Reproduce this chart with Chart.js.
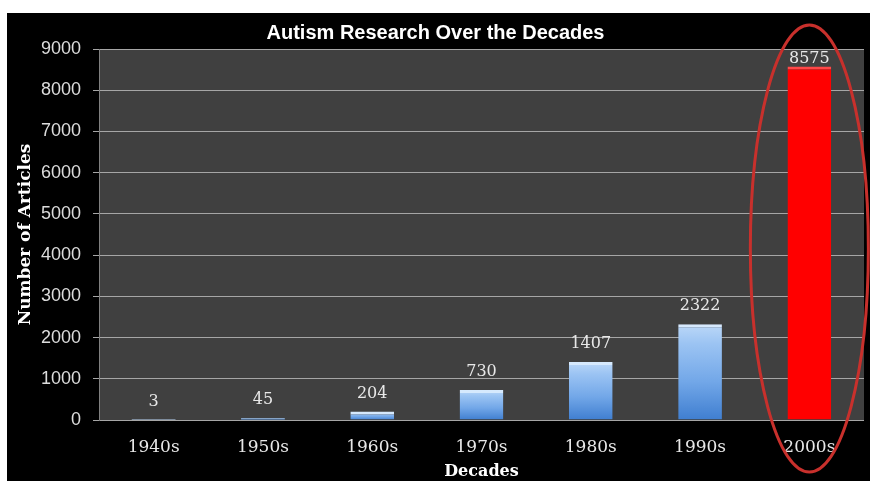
<!DOCTYPE html>
<html>
<head>
<meta charset="utf-8">
<script src="https://cdn.jsdelivr.net/npm/chart.js@4.4.0/dist/chart.umd.min.js"></script>
<style>
    html, body { margin: 0; padding: 0; background: #ffffff; }
    #wrap { position: absolute; left: 7px; top: 13px; width: 863px; height: 468px; background: #000000; }
</style>
</head>
<body>
<div id="wrap"><canvas id="chart" width="863" height="468"></canvas></div>
<script>
// Chart data
const decades = ['1940s', '1950s', '1960s', '1970s', '1980s', '1990s', '2000s'];
const articleCounts = [3, 45, 204, 730, 1407, 2322, 8575];
const yTicks = [0, 1000, 2000, 3000, 4000, 5000, 6000, 7000, 8000, 9000];
const highlightIndex = 6;

// Plot area background
const plotBackground = {
    id: 'plotBackground',
    beforeDraw(chart) {
        const { ctx, chartArea } = chart;
        ctx.save();
        ctx.fillStyle = '#404040';
        ctx.fillRect(chartArea.left, chartArea.top, chartArea.right - chartArea.left, chartArea.bottom - chartArea.top);
        ctx.restore();
    }
};

// Value labels above the bars
const valueLabels = {
    id: 'valueLabels',
    afterDatasetsDraw(chart) {
        const { ctx, chartArea } = chart;
        const meta = chart.getDatasetMeta(0);
        ctx.save();
        ctx.font = '16px "DejaVu Serif"';
        ctx.fillStyle = '#e8e8e8';
        ctx.textAlign = 'center';
        ctx.textBaseline = 'bottom';
        meta.data.forEach((bar, i) => {
            let y = bar.y - 10;
            if (y - 16 < chartArea.top + 2) y = chartArea.top + 18;
            ctx.fillText(String(articleCounts[i]), bar.x, y);
        });
        ctx.restore();
    }
};

// Red ellipse around the highlighted decade
const highlightRing = {
    id: 'highlightRing',
    afterDraw(chart) {
        const { ctx, chartArea, scales } = chart;
        const cx = scales.x.getPixelForValue(highlightIndex);
        const step = (chartArea.right - chartArea.left) / decades.length;
        const top = chartArea.top - 24;
        const bottom = chart.height - 9;
        ctx.save();
        ctx.strokeStyle = '#c8302c';
        ctx.lineWidth = 3;
        ctx.beginPath();
        ctx.ellipse(cx, (top + bottom) / 2, step * 0.54, (bottom - top) / 2, 0, 0, Math.PI * 2);
        ctx.stroke();
        ctx.restore();
    }
};

function barFill(context) {
    const chart = context.chart;
    const { ctx, chartArea, scales } = chart;
    const i = context.dataIndex;
    if (i === highlightIndex) return '#ff0000';
    if (!chartArea) return '#6fa3e6';
    const top = scales.y.getPixelForValue(articleCounts[i]);
    const base = scales.y.getPixelForValue(0);
    const g = ctx.createLinearGradient(0, top, 0, Math.max(base, top + 1));
    g.addColorStop(0, '#bcd8f8');
    g.addColorStop(0.2, '#9cc4f3');
    g.addColorStop(0.6, '#72a7e8');
    g.addColorStop(1, '#3f7ed0');
    return g;
}

function barBorder(context) {
    const i = context.dataIndex;
    if (articleCounts[i] < 100) return 0;
    return { top: 3, left: 0, right: 0, bottom: 0 };
}

const ctx = document.getElementById('chart').getContext('2d');
new Chart(ctx, {
    type: 'bar',
    data: {
        labels: decades,
        datasets: [{
            data: articleCounts,
            backgroundColor: barFill,
            borderColor: decades.map((d, i) => i === highlightIndex ? '#ff4848' : '#d6e9fd'),
            borderWidth: barBorder,
            borderSkipped: 'bottom',
            barPercentage: 0.4,
            categoryPercentage: 1
        }]
    },
    options: {
        responsive: false,
        animation: false,
        layout: { padding: { left: 0, right: 6, top: 0, bottom: 0 } },
        plugins: {
            legend: { display: false },
            tooltip: { enabled: false },
            title: {
                display: true,
                text: 'Autism Research Over the Decades',
                color: '#ffffff',
                font: { family: '"Liberation Sans", Arial, sans-serif', size: 20, weight: 'bold' },
                padding: { top: 8, bottom: 4 }
            }
        },
        scales: {
            y: {
                min: 0,
                max: 9000,
                afterBuildTicks: (scale) => { scale.ticks = yTicks.map(v => ({ value: v })); },
                afterFit: (scale) => { scale.width = 92; },
                ticks: {
                    color: '#dcdcdc',
                    padding: 12,
                    font: { family: '"Liberation Sans", Arial, sans-serif', size: 18 },
                    callback: (value) => String(value)
                },
                grid: {
                    color: '#a6a6a6',
                    tickColor: '#a6a6a6',
                    tickLength: 6,
                    lineWidth: 1
                },
                border: { display: true, color: '#808080' },
                title: {
                    display: true,
                    text: 'Number of Articles',
                    color: '#ffffff',
                    padding: 8,
                    font: { family: '"DejaVu Serif", serif', size: 17, weight: 'bold' }
                }
            },
            x: {
                afterFit: (scale) => { scale.height = 61; },
                ticks: {
                    color: '#e8e8e8',
                    padding: 9,
                    font: { family: '"DejaVu Serif", serif', size: 17 }
                },
                grid: { display: false },
                border: { display: false },
                title: {
                    display: true,
                    text: 'Decades',
                    color: '#ffffff',
                    padding: { top: 0, bottom: 0 },
                    font: { family: '"DejaVu Serif", serif', size: 16, weight: 'bold' }
                }
            }
        }
    },
    plugins: [plotBackground, valueLabels, highlightRing]
});
</script>
</body>
</html>
